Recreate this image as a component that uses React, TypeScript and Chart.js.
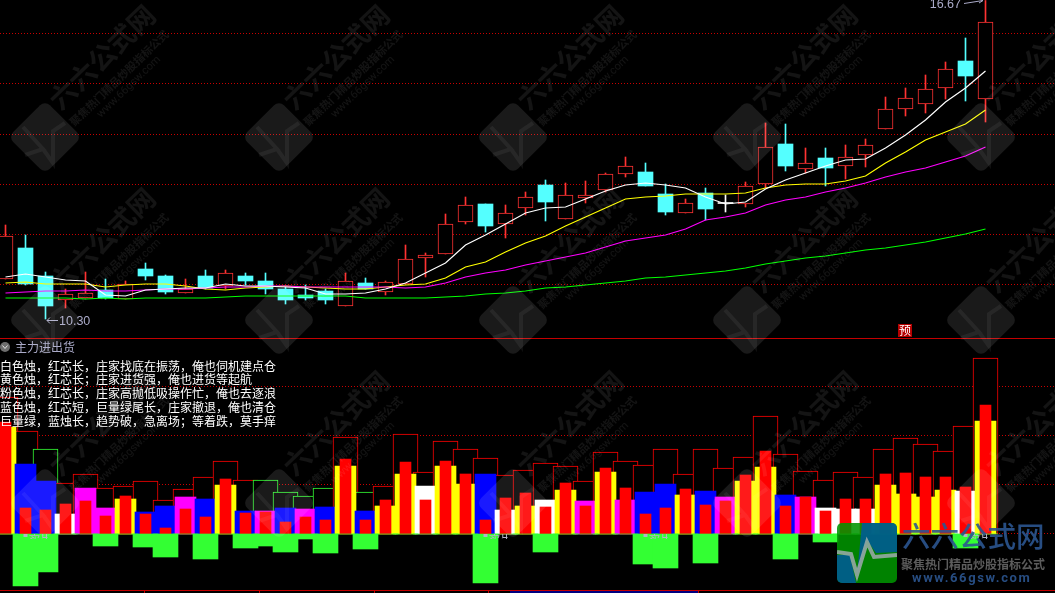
import React, { useEffect, useRef } from "react";
import { Chart, registerables } from "chart.js";

Chart.register(...registerables);

const openPrice = [11.10,11.72,11.16,10.68,10.72,10.88,10.70,11.30,11.16,10.82,11.16,10.96,11.16,11.06,10.90,10.78,10.86,10.56,11.02,10.84,11.00,11.52,11.60,12.24,12.60,12.20,12.52,12.98,12.30,12.72,12.88,13.20,13.24,12.80,12.42,12.82,12.62,12.60,13.00,13.80,13.30,13.52,13.36,13.58,14.10,14.50,14.60,14.92,15.46,14.70];
const closePrice = [11.96,11.00,10.56,10.80,10.82,10.72,11.00,11.16,10.84,10.90,10.92,11.22,11.06,10.90,10.68,10.72,10.68,11.06,10.90,11.04,11.50,11.58,12.20,12.58,12.16,12.42,12.74,12.64,12.78,12.78,13.20,13.36,12.96,12.44,12.62,12.50,12.62,12.96,13.74,13.36,13.42,13.32,13.54,13.78,14.50,14.72,14.90,15.30,15.16,16.24];
const highPrice = [12.18,11.98,11.24,10.90,11.24,11.10,11.06,11.42,11.18,11.10,11.28,11.28,11.22,11.22,10.94,10.98,10.90,11.22,11.12,11.06,11.78,11.62,12.40,12.74,12.60,12.58,12.84,13.08,13.02,13.06,13.22,13.54,13.42,13.00,12.70,12.92,12.78,13.04,14.22,14.20,13.72,13.72,13.78,13.90,14.74,14.92,15.18,15.44,15.92,16.67];
const lowPrice = [11.10,10.98,10.30,10.52,10.72,10.70,10.70,11.08,10.80,10.82,10.90,10.90,10.98,10.80,10.60,10.68,10.60,10.56,10.90,10.78,11.00,11.14,11.60,12.20,12.04,11.92,12.38,12.26,12.30,12.62,12.84,13.14,12.96,12.38,12.42,12.28,12.44,12.54,12.92,13.26,13.22,12.96,13.10,13.34,14.10,14.36,14.42,14.70,14.66,14.24];

const ma5 = [11.14,11.20,11.14,11.08,11.06,10.78,10.76,10.88,10.90,10.92,10.92,11.00,10.96,10.96,10.94,10.92,10.80,10.80,10.82,10.90,11.02,11.22,11.42,11.78,11.98,12.20,12.42,12.52,12.54,12.70,12.86,12.98,13.02,12.98,12.92,12.74,12.60,12.64,12.90,13.08,13.22,13.36,13.48,13.50,13.72,13.98,14.28,14.64,14.92,15.26];
const ma10 = [11.02,11.04,11.00,11.00,11.00,10.94,10.98,11.00,11.00,10.96,10.90,10.88,10.92,10.94,10.96,10.94,10.92,10.90,10.90,10.94,10.98,11.00,11.12,11.34,11.44,11.64,11.82,11.96,12.16,12.34,12.52,12.70,12.74,12.76,12.80,12.80,12.80,12.82,12.92,12.98,13.00,13.00,13.06,13.16,13.42,13.64,13.88,14.04,14.20,14.48];
const ma20 = [10.82,10.84,10.86,10.86,10.88,10.86,10.86,10.88,10.90,10.90,10.92,10.94,10.94,10.96,10.96,10.94,10.94,10.94,10.94,10.94,10.92,10.94,11.02,11.14,11.22,11.28,11.38,11.46,11.54,11.62,11.74,11.86,11.92,11.98,12.10,12.28,12.34,12.42,12.58,12.68,12.74,12.84,12.92,13.02,13.14,13.24,13.32,13.44,13.56,13.74];
const ma60 = [10.72,10.72,10.72,10.72,10.70,10.72,10.70,10.72,10.72,10.72,10.72,10.74,10.76,10.76,10.76,10.76,10.76,10.76,10.72,10.72,10.72,10.72,10.74,10.76,10.80,10.82,10.86,10.92,10.94,10.98,11.02,11.06,11.12,11.14,11.18,11.22,11.26,11.32,11.40,11.46,11.52,11.56,11.62,11.68,11.72,11.78,11.84,11.92,12.00,12.10];

const priceGridTicks = [11, 12, 13, 14, 15, 16];
const flowGridTicks = [1, 49.5, 98.5, 147.5];

const outlineHeight = [137,103,85,51,60,46,48,53,34,45,57,73,54,54,42,38,46,97,42,48,100,62,93,85,76,59,64,71,68,53,82,73,69,85,60,85,66,77,118,80,63,54,62,57,85,96,90,83,108,176];
const outlineGreen = [2, 13, 14, 15, 16, 18];
const solidHeight = [107,70,53,20,46,26,35,22,28,37,35,49,23,23,26,25,27,68,23,28,60,48,68,50,60,24,28,34,44,33,62,34,42,50,39,43,37,53,67,39,37,26,25,25,49,40,37,44,43,113];
const solidKind = ["Y","B","B","W","M","M","Y","B","B","M","B","Y","B","M","B","M","B","Y","B","Y","Y","W","Y","Y","B","W","Y","W","Y","M","Y","M","B","B","Y","B","M","Y","Y","B","M","W","W","W","Y","Y","Y","Y","W","Y"];
const coreHeight = [112,26,24,30,33,18,38,20,6,25,17,55,21,22,12,17,14,75,14,34,72,34,73,60,14,36,41,27,51,28,66,46,20,26,45,29,33,59,83,28,37,23,35,35,60,61,57,57,47,129];
const drainHeight = [0,52,38,0,0,12,0,13,23,0,25,0,14,12,18,5,19,0,15,0,0,0,0,0,49,0,0,18,0,0,0,0,30,34,0,29,0,0,0,25,0,8,0,0,0,0,0,0,14,0];

const sellMarks = [1, 24, 32, 48];
const legendLines = [
  "白色烛，红芯长，庄家找底在振荡，俺也伺机建点仓",
  "黄色烛，红芯长；庄家进货强，俺也进货等起航",
  "粉色烛，红芯长，庄家高抛低吸操作忙，俺也去逐浪",
  "蓝色烛，红芯短，巨量绿尾长，庄家撤退，俺也清仓",
  "巨量绿，蓝烛长，趋势破，急离场；等着跌，莫手痒",
];
const legendY = [366.5, 379.5, 393.5, 407.5, 421.5];
const panelTitle = "主力进出货";
const lowLabel = "10.30";
const highLabel = "16.67";

const KIND_COLOR: Record<string, string> = { Y: "#ffff00", B: "#0000ff", M: "#ff00ff", W: "#ffffff" };
const RED = "#ff3232";
const CYAN = "#54ffff";
const CJK = '"Noto Sans CJK SC"';

const indexes = openPrice.map((_, i) => i);
const candleColor = (i: number) =>
  closePrice[i] > openPrice[i] ? RED : closePrice[i] < openPrice[i] ? CYAN : "#ffffff";

function setTicks(list: number[]) {
  return (scale: any) => {
    scale.ticks = list.map((value) => ({ value }));
  };
}

function drawWatermark(ctx: CanvasRenderingContext2D, cx: number, cy: number) {
  ctx.save();
  ctx.translate(cx, cy);
  ctx.rotate(-Math.PI / 4);
  ctx.fillStyle = "rgba(255,255,255,0.1)";
  ctx.beginPath();
  ctx.roundRect(-26, -26, 52, 52, 7);
  ctx.fill();
  ctx.restore();

  ctx.save();
  ctx.translate(cx, cy);
  ctx.strokeStyle = "rgba(255,255,255,0.06)";
  ctx.lineWidth = 4;
  ctx.beginPath();
  ctx.moveTo(-20, 18);
  ctx.lineTo(-2, 12);
  ctx.lineTo(-22, -10);
  ctx.moveTo(-2, 12);
  ctx.lineTo(8, 26);
  ctx.lineTo(8, -6);
  ctx.lineTo(20, -14);
  ctx.stroke();
  ctx.restore();

  ctx.save();
  ctx.translate(cx, cy);
  ctx.fillStyle = "rgba(255,255,255,0.08)";
  ctx.textAlign = "center";
  ctx.textBaseline = "middle";
  const put = (text: string, dx: number, dy: number, font: string) => {
    ctx.save();
    ctx.translate(dx, dy);
    ctx.rotate(-Math.PI / 4.1);
    ctx.font = font;
    ctx.fillText(text, 0, 0);
    ctx.restore();
  };
  put("六六公式网", 57, -80, `bold 27px ${CJK}`);
  put("聚焦热门精品炒股指标公式", 74, -59, `bold 11px ${CJK}`);
  put("www.66gsw.com", 84, -50, "11px Roboto");
  ctx.restore();
}

function drawLogo(ctx: CanvasRenderingContext2D) {
  ctx.save();
  ctx.beginPath();
  ctx.roundRect(837, 523, 60, 60, 5);
  ctx.clip();
  ctx.globalAlpha = 0.88;
  ctx.fillStyle = "#009400";
  ctx.fillRect(837, 523, 60, 60);
  ctx.fillStyle = "#005a96";
  ctx.beginPath();
  ctx.moveTo(862, 523);
  ctx.lineTo(897, 523);
  ctx.lineTo(897, 552);
  ctx.lineTo(876, 553);
  ctx.lineTo(867, 540);
  ctx.lineTo(857, 575);
  ctx.closePath();
  ctx.fill();
  ctx.beginPath();
  ctx.moveTo(837, 555);
  ctx.lineTo(850, 555);
  ctx.lineTo(856, 583);
  ctx.lineTo(837, 583);
  ctx.closePath();
  ctx.fill();
  ctx.strokeStyle = "#9aa9a9";
  ctx.lineWidth = 4;
  ctx.beginPath();
  ctx.moveTo(837, 552);
  ctx.lineTo(851, 554);
  ctx.lineTo(857, 575);
  ctx.lineTo(867, 542);
  ctx.lineTo(874, 557);
  ctx.lineTo(897, 555);
  ctx.stroke();
  ctx.restore();

  ctx.save();
  ctx.textBaseline = "middle";
  ctx.textAlign = "left";
  ctx.globalAlpha = 0.9;
  ctx.fillStyle = "#2b5590";
  ctx.font = `500 28.5px ${CJK}`;
  ctx.fillText("六六公式网", 902, 536);
  ctx.fillStyle = "#666666";
  ctx.font = `bold 12px ${CJK}`;
  ctx.fillText("聚焦热门精品炒股指标公式", 901, 564);
  ctx.fillStyle = "#2b5590";
  ctx.font = "bold 13px Roboto";
  (ctx as any).letterSpacing = "1.6px";
  ctx.fillText("www.66gsw.com", 912, 579);
  ctx.restore();
}

const overlayPlugin = {
  id: "overlay",
  afterDraw(chart: any) {
    const { ctx, scales } = chart;
    const { x, price, flow } = scales;
    ctx.save();

    // panel rules
    ctx.fillStyle = "#c40000";
    ctx.fillRect(0, Math.round(price.bottom) - 1, 1055, 1);
    ctx.fillRect(0, 590, 1055, 1);
    [144, 259, 374, 488, 698].forEach((px) => ctx.fillRect(px, 591, 1, 2));
    ctx.fillStyle = "#000080";
    ctx.fillRect(510, 591, 188, 2);

    // sell marks, only their tops show above the lower rule of the flow panel
    sellMarks.forEach((i) => {
      const px = x.getPixelForValue(i);
      const py = flow.getPixelForValue(0);
      ctx.save();
      ctx.beginPath();
      ctx.rect(px - 12, py, 34, 5);
      ctx.clip();
      ctx.fillStyle = "#b4b4c8";
      ctx.fillRect(px - 2, py, 4, 3);
      ctx.font = `12px ${CJK}`;
      ctx.textBaseline = "top";
      ctx.fillText("卖出", px + 3, py - 2);
      ctx.restore();
    });

    // high / low annotations
    ctx.strokeStyle = "#aaaac8";
    ctx.fillStyle = "#aaaac8";
    ctx.lineWidth = 1;
    ctx.font = "12.5px 'Liberation Sans'";
    ctx.textBaseline = "middle";
    const lowIdx = lowPrice.indexOf(Math.min(...lowPrice));
    const lx = Math.round(x.getPixelForValue(lowIdx));
    const ly = Math.round(price.getPixelForValue(Math.min(...lowPrice))) + 1;
    ctx.beginPath();
    ctx.moveTo(lx + 1, ly + 0.5);
    ctx.lineTo(lx + 12, ly + 0.5);
    ctx.moveTo(lx + 1, ly + 0.5);
    ctx.lineTo(lx + 4, ly - 2.5);
    ctx.moveTo(lx + 1, ly + 0.5);
    ctx.lineTo(lx + 4, ly + 3.5);
    ctx.stroke();
    ctx.textAlign = "left";
    ctx.fillText(lowLabel, lx + 13, ly + 2);

    const hiIdx = highPrice.indexOf(Math.max(...highPrice));
    const hx = Math.round(x.getPixelForValue(hiIdx));
    const hy = Math.round(price.getPixelForValue(Math.max(...highPrice)));
    ctx.beginPath();
    ctx.moveTo(hx - 21, hy + 3.5);
    ctx.lineTo(hx - 2, hy + 0.5);
    ctx.moveTo(hx - 2, hy + 0.5);
    ctx.lineTo(hx - 6, hy - 1);
    ctx.moveTo(hx - 2, hy + 0.5);
    ctx.lineTo(hx - 6, hy + 3);
    ctx.stroke();
    ctx.textAlign = "right";
    ctx.fillText(highLabel, hx - 24, hy + 4.5);

    // forecast badge
    ctx.fillStyle = "#b40000";
    ctx.fillRect(898, 324, 14, 13);
    ctx.fillStyle = "#ffffff";
    ctx.font = `12px ${CJK}`;
    ctx.textAlign = "center";
    ctx.fillText("预", 905, 330.5);

    // panel heading
    ctx.fillStyle = "#6e6e6e";
    ctx.beginPath();
    ctx.arc(5, 347, 5, 0, Math.PI * 2);
    ctx.fill();
    ctx.strokeStyle = "#e6e6e6";
    ctx.beginPath();
    ctx.moveTo(2.5, 345.5);
    ctx.lineTo(5, 348.5);
    ctx.lineTo(7.5, 345.5);
    ctx.stroke();
    ctx.fillStyle = "#aaaac8";
    ctx.textAlign = "left";
    ctx.font = `12px ${CJK}`;
    ctx.fillText(panelTitle, 15, 347);

    // formula legend
    ctx.fillStyle = "#ffffff";
    legendLines.forEach((line, i) => ctx.fillText(line, 0, legendY[i]));
    ctx.restore();

    // site watermark tiled over the chart
    [-46, 137, 320, 503].forEach((cy) =>
      [45, 279, 513, 747, 981].forEach((cx) => drawWatermark(ctx, cx, cy))
    );
    drawLogo(ctx);
  },
};

export default function App() {
  const ref = useRef<HTMLCanvasElement | null>(null);

  useEffect(() => {
    if (!ref.current) return;
    const barBase = { type: "bar" as const, grouped: false, borderSkipped: false as const, xAxisID: "x" };
    const line = (data: number[], color: string, order: number) => ({
      type: "line" as const,
      data: data.map((y, x) => ({ x, y })),
      borderColor: color,
      borderWidth: 1.2,
      pointRadius: 0,
      tension: 0,
      yAxisID: "price",
      xAxisID: "x",
      order,
    });
    const chart = new Chart(ref.current, {
      type: "bar",
      plugins: [overlayPlugin],
      data: {
        datasets: [
          line(ma5, "#ffffff", 1),
          line(ma20, "#ff00ff", 2),
          line(ma10, "#ffff00", 3),
          line(ma60, "#00ff00", 4),
          {
            ...barBase,
            yAxisID: "price",
            order: 7,
            barThickness: 15,
            data: indexes.map((x) => {
              const a = Math.min(openPrice[x], closePrice[x]);
              const b = Math.max(openPrice[x], closePrice[x]);
              return { x, y: a === b ? [a - 0.01, b + 0.01] : [a, b] };
            }),
            backgroundColor: indexes.map((i) => (candleColor(i) === RED ? "#000000" : candleColor(i))),
            borderColor: indexes.map((i) => candleColor(i)),
            borderWidth: indexes.map((i) => (candleColor(i) === RED ? 1 : 0)),
          },
          {
            ...barBase,
            yAxisID: "price",
            order: 8,
            barThickness: 1,
            data: indexes.map((x) => ({ x, y: [lowPrice[x], highPrice[x]] })),
            backgroundColor: indexes.map((i) => candleColor(i)),
          },
          {
            ...barBase,
            yAxisID: "flow",
            order: 9,
            barThickness: 25,
            data: indexes.map((x) => ({ x, y: -drainHeight[x] })),
            backgroundColor: "#33ff33",
          },
          {
            ...barBase,
            yAxisID: "flow",
            order: 10,
            barThickness: 11,
            data: indexes.map((x) => ({ x, y: coreHeight[x] })),
            backgroundColor: "#ff0000",
          },
          {
            ...barBase,
            yAxisID: "flow",
            order: 11,
            barThickness: 21,
            data: indexes.map((x) => ({ x, y: solidHeight[x] })),
            backgroundColor: solidKind.map((k) => KIND_COLOR[k]),
          },
          {
            ...barBase,
            yAxisID: "flow",
            order: 12,
            barThickness: 25,
            data: indexes.map((x) => ({ x, y: outlineHeight[x] })),
            backgroundColor: "#000000",
            borderColor: indexes.map((i) => (outlineGreen.includes(i) ? "#33ff33" : "#ff0000")),
            borderWidth: 1,
          },
        ] as any,
      },
      options: {
        responsive: false,
        animation: false,
        events: [],
        layout: { padding: 0 },
        plugins: { legend: { display: false }, tooltip: { enabled: false }, title: { display: false } },
        scales: {
          x: { type: "linear", display: false, offset: false, min: -0.275, max: 52.475 },
          flow: {
            type: "linear",
            position: "left",
            stack: "panels",
            stackWeight: 254,
            min: -59,
            max: 195,
            afterBuildTicks: setTicks(flowGridTicks),
            ticks: { display: false },
            border: { display: false, dash: [1, 2] },
            grid: { color: "#c80000", lineWidth: 1, drawTicks: false },
          },
          price: {
            type: "linear",
            position: "left",
            stack: "panels",
            stackWeight: 339,
            min: 9.9,
            max: 16.68,
            afterBuildTicks: setTicks(priceGridTicks),
            ticks: { display: false },
            border: { display: false, dash: [1, 2] },
            grid: { color: "#c80000", lineWidth: 1, drawTicks: false },
          },
        } as any,
      },
    });
    return () => chart.destroy();
  }, []);

  return (
    <div style={{ position: "fixed", left: 0, top: 0, width: 1055, height: 593, background: "#000", overflow: "hidden" }}>
      <canvas ref={ref} width={1055} height={593} style={{ display: "block", width: 1055, height: 593 }} />
    </div>
  );
}
